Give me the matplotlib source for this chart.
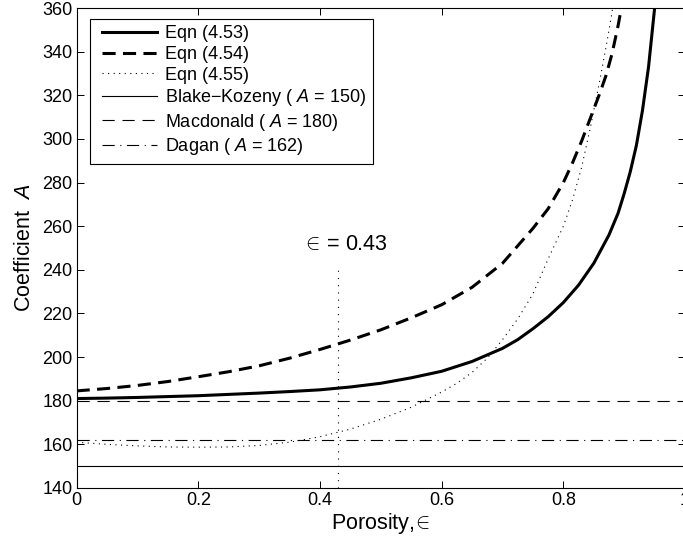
import matplotlib
matplotlib.use('Agg')
from matplotlib import pyplot as plt
from matplotlib.lines import Line2D
from matplotlib.legend_handler import HandlerLine2D
import numpy as np

plt.rcParams['font.family'] = ['Liberation Sans', 'DejaVu Sans']
plt.rcParams['mathtext.fontset'] = 'custom'
plt.rcParams['mathtext.rm'] = 'Liberation Sans'
plt.rcParams['mathtext.it'] = 'Liberation Sans:italic'

# Eqn (4.53)
x_453 = [0, 0.05, 0.1, 0.15, 0.2, 0.25, 0.3, 0.35, 0.4, 0.45, 0.5, 0.55, 0.6, 0.65, 0.7, 0.725,
         0.75, 0.775, 0.8, 0.825, 0.85, 0.875, 0.89, 0.9, 0.91, 0.92, 0.93, 0.94, 0.95, 0.955]
y_453 = [181, 181.2, 181.5, 181.9, 182.3, 182.9, 183.5, 184.2, 185, 186.3, 188, 190.5, 193.5, 198,
         204, 208, 213, 218.5, 225, 233, 243, 256, 266, 275, 285, 297, 313, 333, 360, 372]

# Eqn (4.54)
x_454 = [0, 0.05, 0.1, 0.15, 0.2, 0.25, 0.3, 0.35, 0.4, 0.45, 0.5, 0.55, 0.6, 0.65, 0.7, 0.725,
         0.75, 0.775, 0.8, 0.815, 0.83, 0.845, 0.86, 0.87, 0.88, 0.89, 0.9]
y_454 = [184.5, 185.6, 187, 188.8, 191, 193.3, 196, 199.5, 203.5, 207.8, 212.5, 218, 224, 232,
         243, 251, 259, 268, 280, 289, 299, 310, 321, 329, 339, 352, 367]

# Eqn (4.55)
x_455 = [0, 0.05, 0.1, 0.15, 0.2, 0.25, 0.3, 0.35, 0.4, 0.45, 0.5, 0.55, 0.6, 0.625, 0.65,
         0.675, 0.7, 0.725, 0.75, 0.775, 0.8, 0.815, 0.83, 0.845, 0.86, 0.87, 0.88, 0.89]
y_455 = [161, 160, 159.3, 158.8, 158.7, 158.8, 159.5, 161, 163.5, 167, 171.5, 177, 184, 188, 193,
         199.5, 208, 217.5, 229, 245, 260, 272, 287, 306, 327, 342, 358, 378]

# constant models
blake_kozeny = 150
macdonald = 180
dagan = 162

eps_mark = 0.43
eps_line_top = 242

fig = plt.figure(figsize=(6.83, 5.45), dpi=100)
ax = fig.add_axes([0.1122, 0.1046, 0.8908, 0.8807])

ax.plot(x_453, y_453, 'k-', lw=2.2, label='Eqn (4.53)')
ax.plot(x_454, y_454, 'k--', lw=2.2, dashes=(4.3, 2.4), label='Eqn (4.54)')
ax.plot(x_455, y_455, 'k:', lw=0.8, dashes=(1, 4), label='Eqn (4.55)')
ax.plot([0, 1], [blake_kozeny, blake_kozeny], 'k-', lw=0.8,
        label='Blake\u2212Kozeny ( $A$ = 150)')
ax.plot([0, 1], [macdonald, macdonald], 'k--', lw=0.8, dashes=(11, 7),
        label='Macdonald ( $A$ = 180)')
ax.plot([0, 1], [dagan, dagan], 'k-.', lw=0.8, dashes=(11, 5, 1, 5),
        label='Dagan ( $A$ = 162)')

ax.plot([eps_mark, eps_mark], [140, eps_line_top], 'k:', lw=0.8, dashes=(1, 5.5))
ax.text(0.37, 251.5, r'${\in}\!$ = 0.43', fontsize=15.5, ha='left', va='center')

ax.set_xlim(0, 1)
ax.set_ylim(140, 360)
ax.set_xticks(np.arange(0, 1.01, 0.2))
ax.set_xticklabels(['0', '0.2', '0.4', '0.6', '0.8', '1'])
ax.set_yticks(np.arange(140, 361, 20))
ax.tick_params(direction='in', length=5, width=0.7, labelsize=13, pad=3,
               top=True, right=True)
for s in ax.spines.values():
    s.set_linewidth(0.8)

ax.set_xlabel(r'Porosity,$\!{\in}$', fontsize=15.5, labelpad=1)
ax.set_ylabel('Coefficient  $A$', fontsize=15.5, labelpad=5)

leg = ax.legend(loc='upper left', bbox_to_anchor=(0.022, 0.977), fontsize=13,
                handlelength=3.37, handletextpad=0.45, labelspacing=0.2,
                borderpad=0.35, borderaxespad=0, fancybox=False, framealpha=1,
                handler_map={Line2D: HandlerLine2D(xpad=0.32)})
leg.get_frame().set_edgecolor('black')
leg.get_frame().set_linewidth(0.8)

plt.savefig('out.png', dpi=100)
